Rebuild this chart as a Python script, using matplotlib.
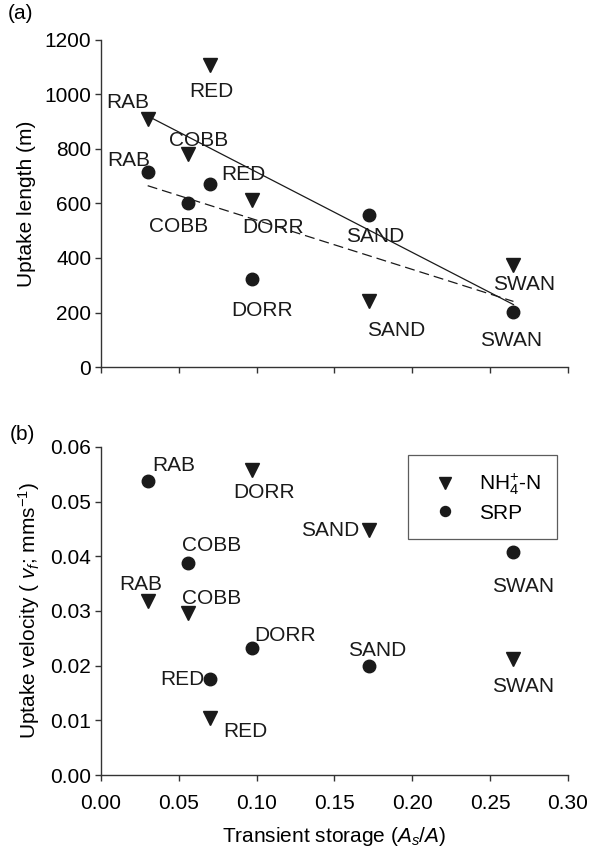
import numpy as np
import matplotlib
matplotlib.use("Agg")
from matplotlib import pyplot as plt

plt.rcParams['font.family'] = ['Liberation Sans', 'DejaVu Sans']
plt.rcParams['mathtext.fontset'] = 'custom'
plt.rcParams['mathtext.rm'] = 'Liberation Sans'
plt.rcParams['mathtext.it'] = 'Liberation Sans:italic'
plt.rcParams['mathtext.bf'] = 'Liberation Sans:bold'

FS = 15

sites = ['RAB', 'COBB', 'RED', 'DORR', 'SAND', 'SWAN']

# transient storage As/A for each stream
nh4_x = [0.030, 0.0556, 0.070, 0.097, 0.172, 0.265]
srp_x = [0.030, 0.0556, 0.070, 0.097, 0.172, 0.265]

# (a) uptake length (m)
nh4_len = [910, 780, 1108, 611, 244, 373]
srp_len = [715, 602, 670, 324, 558, 202]

# (b) uptake velocity (mm/s)
nh4_vf = [0.0319, 0.0297, 0.0104, 0.0558, 0.0448, 0.0213]
srp_vf = [0.0538, 0.0387, 0.0176, 0.0232, 0.0199, 0.0408]

# label offsets in pixels (dx, dy down)
off_a_nh4 = [(-20, -17), (11, -14), (1, 26), (21, 27), (27, 30), (11, 19)]
off_a_srp = [(-19, -12), (-9, 24), (33, -10), (10, 32), (6, 22), (-2, 29)]
off_b_nh4 = [(-7, -16), (24, -14), (35, 13), (12, 23), (-39, 0), (10, 28)]
off_b_srp = [(26, -15), (24, -18), (-28, 1), (33, -13), (8, -16), (10, 35)]

fig = plt.figure(figsize=(5.99, 8.47), dpi=100)
ax1 = fig.add_axes([0.1686, 0.5667, 0.7795, 0.3861])
ax2 = fig.add_axes([0.1686, 0.085, 0.7795, 0.3873])

tri = dict(marker='v', color='#1a1a1a', markersize=10.5, linestyle='none')
circ = dict(marker='o', color='#1a1a1a', markersize=9, linestyle='none')


def labels(ax, xs, ys, offs):
    for name, x, y, (dx, dy) in zip(sites, xs, ys, offs):
        ax.annotate(name, (x, y), xytext=(dx, -dy), textcoords='offset pixels',
                    ha='center', va='center', fontsize=FS, color='#1a1a1a')


# panel a
ax1.plot(nh4_x, nh4_len, **tri)
ax1.plot(srp_x, srp_len, **circ)
p = np.polyfit(nh4_x, nh4_len, 1)
xx = np.array([min(nh4_x), max(nh4_x)])
ax1.plot(xx, np.polyval(p, xx), color='#1a1a1a', lw=0.9)
p = np.polyfit(srp_x, srp_len, 1)
ax1.plot(xx, np.polyval(p, xx), color='#1a1a1a', lw=0.9, dashes=(8, 4))
labels(ax1, nh4_x, nh4_len, off_a_nh4)
labels(ax1, srp_x, srp_len, off_a_srp)
ax1.set_ylim(0, 1200)
ax1.set_yticks(np.arange(0, 1201, 200))
ax1.set_ylabel('Uptake length (m)', fontsize=FS, labelpad=6)
ax1.tick_params(axis='x', labelbottom=False)

# panel b
ax2.plot(nh4_x, nh4_vf, label='NH$_4^{+}$-N', **tri)
ax2.plot(srp_x, srp_vf, label='SRP', **circ)
labels(ax2, nh4_x, nh4_vf, off_b_nh4)
labels(ax2, srp_x, srp_vf, off_b_srp)
ax2.set_ylim(0, 0.06)
ax2.set_yticks(np.arange(0, 0.061, 0.01))
ax2.set_yticklabels([f'{v:.2f}' for v in np.arange(0, 0.061, 0.01)])
ax2.set_ylabel('Uptake velocity ( $v_f$; mms$^{-1}$)', fontsize=FS, labelpad=6)
ax2.set_xlabel('Transient storage ($A_s$/$A$)', fontsize=FS, labelpad=8)
leg = ax2.legend(loc='upper right', bbox_to_anchor=(0.977, 0.975), frameon=True,
                 fancybox=False, edgecolor='#333333', fontsize=FS,
                 handletextpad=0.6, borderpad=0.8, labelspacing=0.3,
                 markerscale=0.8, borderaxespad=0)
leg.get_frame().set_linewidth(0.9)

for ax in (ax1, ax2):
    ax.set_xlim(0, 0.30)
    ax.set_xticks(np.arange(0, 0.301, 0.05))
    ax.spines['top'].set_visible(False)
    ax.spines['right'].set_visible(False)
    for s in ('left', 'bottom'):
        ax.spines[s].set_color('#333333')
        ax.spines[s].set_linewidth(1.0)
    ax.tick_params(direction='out', length=4, width=1.0, color='#333333',
                   labelsize=FS, pad=3)
ax2.set_xticklabels([f'{v:.2f}' for v in np.arange(0, 0.301, 0.05)])
ax2.tick_params(axis='x', pad=10)

fig.text(0.013, 0.978, '(a)', fontsize=FS)
fig.text(0.016, 0.48, '(b)', fontsize=FS)

fig.savefig('out.png', dpi=100)
